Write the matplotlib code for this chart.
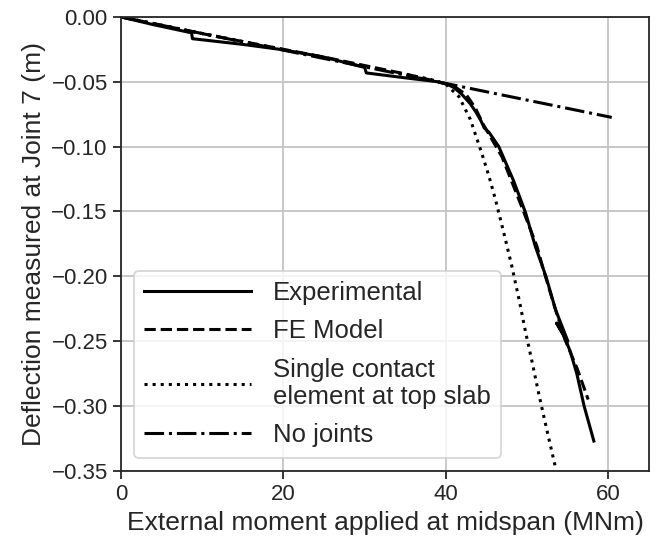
import matplotlib
matplotlib.use('Agg')
import matplotlib.pyplot as plt

plt.rcParams['font.family'] = ['Liberation Sans', 'DejaVu Sans']

# Experimental (with small slips and an unloading loop)
exp_x = [0, 4, 8.7, 8.8, 15, 20, 25, 30.0, 30.2, 35, 39, 40, 41, 42, 43, 43.7,
         44.3, 44.7, 45.3, 46.5, 48.3, 49.8, 51.0, 52.3, 53.5, 55.0, 53.6, 54.6,
         55.3, 56.1, 57.0, 58.2]
exp_y = [0, -0.0060, -0.0123, -0.0168, -0.0212, -0.0254, -0.0310, -0.0390, -0.0432,
         -0.0470, -0.0500, -0.0515, -0.0545, -0.0600, -0.0670, -0.0735,
         -0.0800, -0.0855, -0.0890, -0.1000, -0.1260, -0.1510, -0.1770, -0.2000,
         -0.2260, -0.2500, -0.2360, -0.2470, -0.2580, -0.2750, -0.3000, -0.3270]

# FE model
fe_x = [0, 5, 10.5, 15, 20, 25, 30, 35, 39, 41, 42.5, 43.6, 44.6, 45.8, 46.9,
        49.3, 51.2, 52.0, 53.2, 54.6, 56.2, 57.5]
fe_y = [0, -0.0065, -0.0135, -0.0190, -0.0250, -0.0310, -0.0375, -0.0440, -0.0500,
        -0.0535, -0.0600, -0.0700, -0.0830, -0.0960, -0.1080, -0.1460, -0.1770,
        -0.1950, -0.2200, -0.2480, -0.2720, -0.2950]

# Single contact element at top slab
sc_x = [0, 10, 20, 30, 38, 40, 41.6, 43.0, 44.4, 45.3, 46.1, 47.1, 48.1, 49.0,
        49.8, 50.6, 51.4, 52.4, 53.5]
sc_y = [0, -0.0128, -0.0252, -0.0380, -0.0480, -0.0520, -0.0615, -0.0790, -0.1050,
        -0.1230, -0.1410, -0.1660, -0.1920, -0.2180, -0.2430, -0.2660, -0.2900,
        -0.3180, -0.3480]

# No joints
nj_x = [0, 60.4]
nj_y = [0, -0.0775]

fig = plt.figure(figsize=(6.57, 5.45), dpi=100)
ax = fig.add_axes([0.184, 0.136, 0.804, 0.833])

ax.plot(exp_x, exp_y, 'k-', lw=2.2, label='Experimental')
ax.plot(fe_x, fe_y, 'k--', lw=2.2, label='FE Model')
ax.plot(sc_x, sc_y, 'k:', lw=2.2, label='Single contact\nelement at top slab')
ax.plot(nj_x, nj_y, 'k-.', lw=2.2, label='No joints')

ax.set_xlim(0, 65)
ax.set_ylim(-0.35, 0.0)
ax.set_xticks([0, 20, 40, 60])
ax.set_yticks([0, -0.05, -0.10, -0.15, -0.20, -0.25, -0.30, -0.35])
ax.set_yticklabels(['0.00', '\u22120.05', '\u22120.10', '\u22120.15', '\u22120.20',
                    '\u22120.25', '\u22120.30', '\u22120.35'])
ax.grid(True, color='#c4c4c4', lw=1.3)
ax.set_axisbelow(True)
for s in ax.spines.values():
    s.set_color('#262626')
    s.set_linewidth(1.3)
ax.tick_params(direction='out', length=6, width=1.3, color='#262626',
               labelsize=16, labelcolor='#262626')

ax.set_xlabel('External moment applied at midspan (MNm)', fontsize=19, color='#262626')
ax.set_ylabel('Deflection measured at Joint 7 (m)', fontsize=19, color='#262626')

leg = ax.legend(loc='lower left', bbox_to_anchor=(0.0245, 0.029), borderaxespad=0,
                fontsize=18.5, handlelength=4.15, frameon=True, fancybox=True,
                borderpad=0.4, labelspacing=0.55, handletextpad=0.85)
leg.get_frame().set_edgecolor('#cccccc')
leg.get_frame().set_linewidth(1.3)
for t in leg.get_texts():
    t.set_color('#262626')
    t.set_linespacing(1.2)

plt.savefig('out.png', dpi=100)
